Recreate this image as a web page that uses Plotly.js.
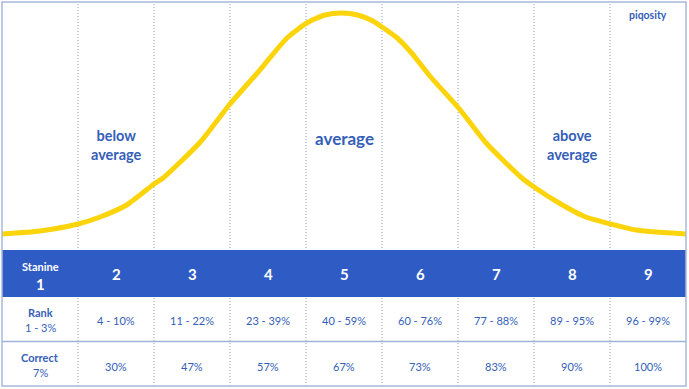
<!DOCTYPE html>
<html>
<head>
<meta charset="utf-8">
<script src="https://cdn.plot.ly/plotly-3.0.1.min.js"></script>
<style>html,body{margin:0;padding:0;background:#fff;}#chart{width:689px;height:389px;}</style>
</head>
<body>
<div id="chart"></div>
<script>
// Curve (x in stanine column units 0..9, y = relative height)
const curveX = [0, 0.5, 1, 1.29, 1.64, 2, 2.12, 2.61, 3, 3.36, 3.75, 4.01, 4.25, 4.47, 4.68, 4.88, 5, 5.2, 5.39, 5.63, 6.03, 6.37, 6.84, 7, 7.33, 7.68, 8.01, 8.34, 9];
const curveY = [16, 19, 26, 33, 45, 66, 72, 108, 146, 177, 212, 227, 235, 237, 235, 229, 223, 212, 197, 174, 140, 107, 72, 63, 47, 33, 26, 20, 16];

const stanines = ['1', '2', '3', '4', '5', '6', '7', '8', '9'];
const ranks = ['1 - 3%', '4 - 10%', '11 - 22%', '23 - 39%', '40 - 59%', '60 - 76%', '77 - 88%', '89 - 95%', '96 - 99%'];
const correct = ['7%', '30%', '47%', '57%', '67%', '73%', '83%', '90%', '100%'];
const rowLabels = ['Stanine', 'Rank', 'Correct'];
const zoneLabels = ['below<br>average', 'average', 'above<br>average'];
const zoneCols = [2, 5, 8];
const brand = 'piqosity';

const H = 389, T = 2, B = 3;
const ph = H - T - B;
function py(p) { return (H - B - p) / ph; }

const blue = '#2e5bc4';
const txt = '#3560b8';
const font = 'Lato, "Open Sans", sans-serif';

const shapes = [];
for (let i = 1; i < 9; i++) {
  shapes.push({type: 'line', xref: 'x', yref: 'paper', x0: i, x1: i, y0: 0, y1: 1,
    line: {color: '#8c9fcf', width: 1, dash: '1px,2px'}, layer: 'below'});
}
shapes.push({type: 'rect', xref: 'x', yref: 'paper', x0: 0, x1: 9, y0: py(297), y1: py(250),
  fillcolor: blue, line: {width: 0}, layer: 'below'});
shapes.push({type: 'line', xref: 'x', yref: 'paper', x0: 0, x1: 9, y0: py(341.5), y1: py(341.5),
  line: {color: '#9fb2d8', width: 1.5}, layer: 'below'});
shapes.push({type: 'rect', xref: 'paper', yref: 'paper', x0: 0, x1: 1, y0: 0, y1: 1,
  line: {color: '#a9b9d8', width: 1.5}, fillcolor: 'rgba(0,0,0,0)', layer: 'above'});

const ann = [];
function add(x, y, text, size, color, bold) {
  ann.push({xref: 'x', yref: 'paper', x: x, y: y, text: bold ? '<b>' + text + '</b>' : text,
    showarrow: false, xanchor: 'center', yanchor: 'middle',
    font: {family: font, size: size, color: color}});
}
zoneCols.forEach((c, i) => {
  add(c - 0.5, py(i === 1 ? 138 : 145), zoneLabels[i], i === 1 ? 17 : 14.5, txt, true);
});
ann.push({xref: 'x', yref: 'paper', x: 8.5, y: py(15), text: '<b>' + brand + '</b>', showarrow: false,
  xanchor: 'center', yanchor: 'middle', font: {family: font, size: 10.5, color: txt}});

add(0.5, py(266), rowLabels[0], 11, '#ffffff', true);
add(0.5, py(284), stanines[0], 15, '#ffffff', true);
for (let i = 1; i < 9; i++) add(i + 0.5, py(274), stanines[i], 15, '#ffffff', true);

add(0.5, py(312), rowLabels[1], 11, txt, true);
add(0.5, py(327), ranks[0], 11, txt, false);
for (let i = 1; i < 9; i++) add(i + 0.5, py(320), ranks[i], 11, txt, false);

add(0.5, py(357), rowLabels[2], 11, txt, true);
add(0.5, py(372), correct[0], 11, txt, false);
for (let i = 1; i < 9; i++) add(i + 0.5, py(366), correct[i], 11, txt, false);

const data = [{
  type: 'scatter', mode: 'lines', x: curveX, y: curveY,
  line: {color: '#fbd40b', width: 5, shape: 'spline', smoothing: 0.6},
  hoverinfo: 'skip', cliponaxis: false
}];

const layout = {
  width: 689, height: 389,
  margin: {l: 2, r: 3, t: T, b: B, pad: 0},
  paper_bgcolor: '#ffffff', plot_bgcolor: 'rgba(0,0,0,0)',
  showlegend: false,
  xaxis: {range: [0, 9], visible: false, fixedrange: true},
  yaxis: {range: [0, 248], domain: [py(250), 1], visible: false, fixedrange: true},
  shapes: shapes,
  annotations: ann
};

Plotly.newPlot('chart', data, layout, {displayModeBar: false, staticPlot: true});
</script>
</body>
</html>
